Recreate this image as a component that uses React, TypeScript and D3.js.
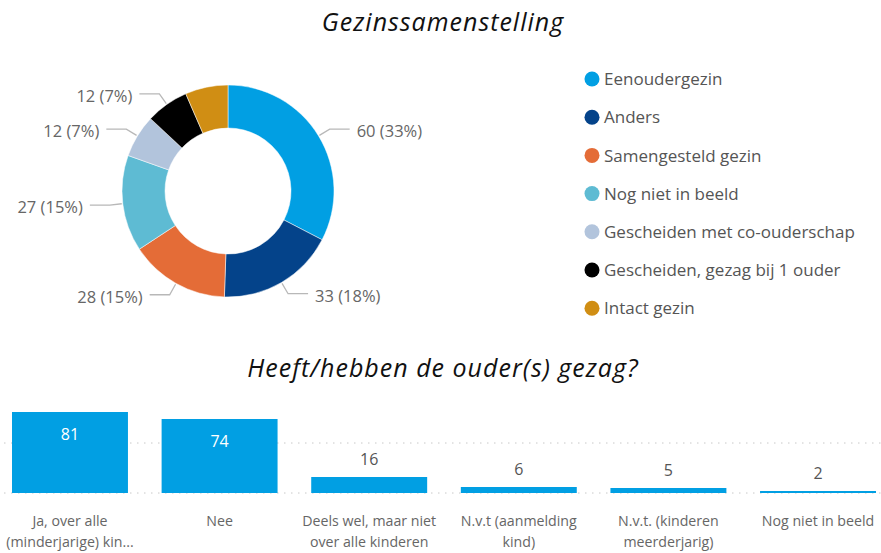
import React from "react";
import * as d3 from "d3";

const W = 881;
const H = 553;

const donutTitle = "Gezinssamenstelling";
const donutCategories = [
  "Eenoudergezin",
  "Anders",
  "Samengesteld gezin",
  "Nog niet in beeld",
  "Gescheiden met co-ouderschap",
  "Gescheiden, gezag bij 1 ouder",
  "Intact gezin",
];
const donutValues = [60, 33, 28, 27, 12, 12, 12];
const donutColors = ["#019FE3", "#04438A", "#E46C37", "#5EBBD3", "#B2C4DC", "#000000", "#D08E14"];

const barTitle = "Heeft/hebben de ouder(s) gezag?";
const barCategories = [
  ["Ja, over alle", "(minderjarige) kin..."],
  ["Nee"],
  ["Deels wel, maar niet", "over alle kinderen"],
  ["N.v.t (aanmelding", "kind)"],
  ["N.v.t. (kinderen", "meerderjarig)"],
  ["Nog niet in beeld"],
];
const barValues = [81, 74, 16, 6, 5, 2];
const barTicks = [0, 50];

const FONT = "'Segoe UI', 'Open Sans', sans-serif";

export default function App() {
  // Donut
  const cx = 228;
  const cy = 191;
  const rOuter = 106;
  const rInner = 63;
  const total = d3.sum(donutValues);
  const pie = d3.pie<number>().sort(null).value((d) => d);
  const arcs = pie(donutValues);
  const arc = d3.arc<d3.PieArcDatum<number>>().innerRadius(rInner).outerRadius(rOuter);

  // labels with simple collision hiding
  const placed: { side: number; y: number }[] = [];
  const labels = arcs.map((a, i) => {
    const mid = (a.startAngle + a.endAngle) / 2;
    const sx = Math.sin(mid);
    const sy = -Math.cos(mid);
    const p0 = [cx + (rOuter + 1) * sx, cy + (rOuter + 1) * sy];
    const p1 = [cx + 119 * sx, cy + 119 * sy];
    const side = sx >= 0 ? 1 : -1;
    const p2 = [p1[0] + side * 20, p1[1]];
    const visible = !placed.some((p) => p.side === side && Math.abs(p.y - p1[1]) < 22);
    if (visible) placed.push({ side, y: p1[1] });
    return {
      i,
      visible,
      pts: [p0, p1, p2],
      tx: p2[0] + side * 7,
      ty: p1[1],
      anchor: side > 0 ? "start" : "end",
      text: `${donutValues[i]} (${Math.round((donutValues[i] / total) * 100)}%)`,
    };
  });

  // Bars
  const x = d3
    .scaleBand<number>()
    .domain(barValues.map((_, i) => i))
    .range([12, 876])
    .paddingInner(0.225)
    .paddingOuter(0);
  const y = d3.scaleLinear().domain([0, 100]).range([493, 393]);

  return (
    <svg width={W} height={H} style={{ display: "block", position: "absolute", left: 0, top: 0, background: "#fff" }}>
      <text x={443} y={31} textAnchor="middle" fontFamily={FONT} fontStyle="italic" fontSize={25} letterSpacing={1} fill="#111">
        {donutTitle}
      </text>
      <g>
        {arcs.map((a, i) => (
          <path key={i} d={arc(a) || ""} transform={`translate(${cx},${cy})`} fill={donutColors[i]} stroke="#fff" strokeWidth={0.5} />
        ))}
        {labels
          .filter((l) => l.visible)
          .map((l) => (
            <g key={l.i}>
              <polyline points={l.pts.map((p) => p.join(",")).join(" ")} fill="none" stroke="#b8b8b8" strokeWidth={1.3} />
              <text x={l.tx} y={l.ty} dy="0.5em" textAnchor={l.anchor} fontFamily={FONT} fontSize={16.5} fill="#666">
                {l.text}
              </text>
            </g>
          ))}
      </g>
      <g>
        {donutCategories.map((c, i) => (
          <g key={c} transform={`translate(0,${79 + i * 38.2})`}>
            <circle cx={592} cy={0} r={7.5} fill={donutColors[i]} />
            <text x={604} y={0} dy="0.37em" fontFamily={FONT} fontSize={17} fill="#555">
              {c}
            </text>
          </g>
        ))}
      </g>

      <text x={443} y={377} textAnchor="middle" fontFamily={FONT} fontStyle="italic" fontSize={25} letterSpacing={1} fill="#111">
        {barTitle}
      </text>
      <g>
        {barTicks.map((t) => (
          <line key={t} x1={4} x2={881} y1={y(t)} y2={y(t)} stroke="#c8c8c8" strokeWidth={1} strokeDasharray="1.5,5.5" />
        ))}
        {barValues.map((v, i) => {
          const inside = v > 30;
          return (
            <g key={i}>
              <rect x={x(i)} y={y(v)} width={x.bandwidth()} height={y(0) - y(v)} fill="#019FE3" />
              <text
                x={(x(i) || 0) + x.bandwidth() / 2}
                y={inside ? y(v) + 28 : y(v) - 12}
                textAnchor="middle"
                fontFamily={FONT}
                fontSize={16}
                fill={inside ? "#fff" : "#555"}
              >
                {v}
              </text>
              {barCategories[i].map((line, j) => (
                <text
                  key={j}
                  x={(x(i) || 0) + x.bandwidth() / 2}
                  y={526 + j * 21}
                  textAnchor="middle"
                  fontFamily={FONT}
                  fontSize={14.2}
                  fill="#666"
                >
                  {line}
                </text>
              ))}
            </g>
          );
        })}
      </g>
    </svg>
  );
}
